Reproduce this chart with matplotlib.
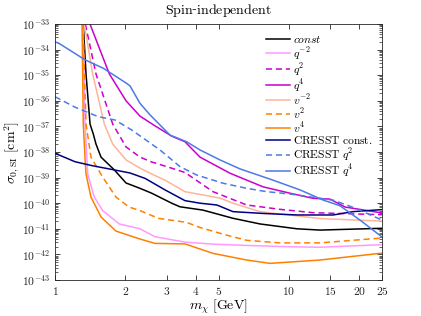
import numpy as np
import matplotlib
matplotlib.use("Agg")
import matplotlib.pyplot as plt
from matplotlib.ticker import FixedLocator, FuncFormatter, LogLocator, NullFormatter

plt.rcParams['mathtext.fontset'] = 'cm'
plt.rcParams['font.family'] = ['DejaVu Serif']

# ---- data: mass (GeV) and log10(sigma / cm^2) ----
const_m = [1.321, 1.357, 1.412, 1.458, 1.497, 1.573, 1.793, 2.012, 2.309, 2.591, 3.154, 3.422, 4.29, 5.77, 7.52, 10.83, 13.58, 25]
const_e = [-33.0, -34.95, -36.91, -37.3, -37.69, -38.2, -38.7, -39.21, -39.42, -39.61, -40.0, -40.14, -40.27, -40.59, -40.81, -41.0, -41.05, -40.98]

qm2_m = [1.317, 1.344, 1.380, 1.472, 1.599, 1.883, 2.309, 2.677, 3.595, 4.74, 6.6, 10.0, 13.58, 25]
qm2_e = [-33.0, -36.91, -38.86, -39.76, -40.29, -40.81, -41.0, -41.31, -41.52, -41.6, -41.65, -41.7, -41.72, -41.62]

q2_m = [1.348, 1.497, 1.765, 2.012, 2.309, 2.591, 3.051, 3.595, 4.737, 6.6, 9.16, 12.68, 25]
q2_e = [-33.0, -34.95, -36.91, -37.8, -38.2, -38.39, -38.59, -38.8, -39.55, -40.07, -40.24, -40.37, -40.45]

q4_m = [1.411, 1.707, 2.012, 2.309, 2.677, 3.154, 3.595, 4.168, 5.601, 7.75, 10.11, 12.68, 14.99, 17.38, 25]
q4_e = [-33.0, -34.95, -36.0, -36.6, -36.98, -37.38, -37.6, -38.2, -38.83, -39.36, -39.61, -39.81, -39.84, -40.15, -40.38]

vm2_m = [1.334, 1.449, 1.625, 1.765, 2.012, 2.309, 2.591, 2.953, 3.595, 5.07, 5.768, 7.52, 13.58, 25]
vm2_e = [-33.0, -34.95, -36.91, -37.69, -38.31, -38.63, -38.86, -39.1, -39.55, -39.8, -40.0, -40.33, -40.6, -40.7]

v2_m = [1.317, 1.357, 1.425, 1.599, 1.823, 2.072, 2.309, 2.766, 3.653, 4.168, 5.42, 6.6, 9.16, 13.58, 25]
v2_e = [-33.0, -36.91, -38.2, -38.98, -39.76, -40.15, -40.29, -40.59, -40.75, -40.95, -41.25, -41.45, -41.55, -41.55, -41.36]

v4_m = [1.305, 1.321, 1.348, 1.357, 1.425, 1.573, 1.823, 2.309, 2.677, 3.595, 4.737, 6.6, 8.3, 10.83, 13.58, 25]
v4_e = [-33.0, -36.91, -38.47, -38.86, -39.76, -40.54, -41.09, -41.4, -41.57, -41.59, -41.96, -42.22, -42.35, -42.28, -42.22, -41.95]

cr_const_m = [1, 1.218, 1.435, 1.793, 2.093, 2.426, 2.953, 3.595, 4.168, 4.92, 5.768, 7.75, 10.83, 13.58, 15.44, 18.79, 25]
cr_const_e = [-38.05, -38.38, -38.53, -38.7, -38.82, -39.03, -39.48, -39.9, -40.0, -40.07, -40.33, -40.4, -40.46, -40.46, -40.46, -40.33, -40.25]

cr_q2_m = [1, 1.218, 1.531, 1.805, 2.128, 2.81, 3.422, 4.035, 5.228, 6.6, 8.04, 10.11, 12.68, 15.44, 19.17, 25]
cr_q2_e = [-35.84, -36.25, -36.62, -36.75, -37.14, -37.92, -38.57, -38.9, -39.22, -39.42, -39.55, -39.64, -39.77, -39.88, -40.19, -40.66]

cr_q4_m = [1, 1.050, 1.344, 1.609, 2.025, 2.093, 2.309, 2.548, 3.102, 3.653, 4.168, 5.075, 6.18, 8.55, 11.15, 13.99, 16.54, 20.14, 25]
cr_q4_e = [-33.69, -33.78, -34.4, -34.73, -35.32, -35.42, -36.1, -36.55, -37.34, -37.6, -37.92, -38.31, -38.66, -39.1, -39.48, -39.875, -40.1, -40.66, -41.32]

labels = [r'$const$', r'$q^{-2}$', r'$q^{2}$', r'$q^{4}$', r'$v^{-2}$', r'$v^{2}$', r'$v^{4}$',
          r'$\mathrm{CRESST\ const.}$', r'$\mathrm{CRESST}\ q^{2}$', r'$\mathrm{CRESST}\ q^{4}$']

xticks = [1, 2, 3, 4, 5, 10, 15, 20, 25]
yexps = list(range(-43, -32))

series = [
    (const_m, const_e, 'black', '-'),
    (qm2_m, qm2_e, '#ff99ff', '-'),
    (q2_m, q2_e, '#cc00cc', '--'),
    (q4_m, q4_e, '#cc00cc', '-'),
    (vm2_m, vm2_e, '#ffb399', '-'),
    (v2_m, v2_e, '#ff8000', '--'),
    (v4_m, v4_e, '#ff8000', '-'),
    (cr_const_m, cr_const_e, '#000080', '-'),
    (cr_q2_m, cr_q2_e, '#4d79e6', '--'),
    (cr_q4_m, cr_q4_e, '#4d79e6', '-'),
]

fig = plt.figure(figsize=(4.21, 3.16), dpi=100)
ax = fig.add_axes([55/421, 36/316, 327/421, 256/316])

for (m, e, c, ls), lab in zip(series, labels):
    y = 10.0 ** np.array(e)
    if ls == '--':
        ax.plot(m, y, color=c, lw=1.1, linestyle=(0, (4, 2.5)), label=lab)
    else:
        ax.plot(m, y, color=c, lw=1.1, label=lab)

ax.set_xscale('log')
ax.set_yscale('log')
ax.set_xlim(1, 25)
ax.set_ylim(1e-43, 1e-33)

ax.xaxis.set_major_locator(FixedLocator(xticks))
ax.xaxis.set_minor_locator(FixedLocator([]))
ax.xaxis.set_major_formatter(FuncFormatter(lambda v, p: r'$\mathsf{%d}$' % round(v)))
ax.xaxis.set_minor_formatter(NullFormatter())

ax.yaxis.set_major_locator(FixedLocator([10.0 ** k for k in yexps]))
ax.yaxis.set_minor_locator(LogLocator(base=10, subs=np.arange(2, 10), numticks=20))
ax.yaxis.set_major_formatter(FuncFormatter(lambda v, p: r'$\mathsf{10^{%d}}$' % round(np.log10(v))))
ax.yaxis.set_minor_formatter(NullFormatter())

ax.tick_params(which='both', direction='in', top=True, right=True, color='#262626',
               labelsize=8.3, labelcolor='#262626')
ax.tick_params(which='major', length=3.5, width=0.6)
ax.tick_params(which='minor', length=2, width=0.5)
for s in ax.spines.values():
    s.set_color('#262626')
    s.set_linewidth(0.6)

ax.set_title(r'$\mathrm{Spin}$-$\mathrm{independent}$', fontsize=10, pad=7.5)
ax.set_xlabel(r'$m_\chi\ [\mathrm{GeV}]$', fontsize=10, labelpad=0)
ax.set_ylabel(r'$\sigma_{0,\mathrm{SI}}\ [\mathrm{cm}^2]$', fontsize=10, labelpad=0)

leg = ax.legend(loc='upper right', frameon=False, fontsize=8.3, handlelength=2.1,
                handletextpad=0.25, labelspacing=-0.08, borderaxespad=0.0, borderpad=0.0,
                bbox_to_anchor=(0.9725, 0.965))

fig.savefig('out.png', dpi=100)
